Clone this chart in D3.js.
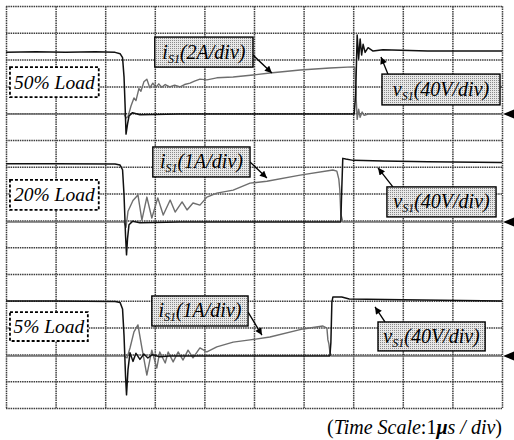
<!DOCTYPE html>
<html><head><meta charset="utf-8">
<script src="https://cdn.jsdelivr.net/npm/d3@7"></script>
<style>body{margin:0;background:#fff} svg{display:block}</style>
</head><body>
<script>
// ---------- DATA (time in µs, voltage in V, current in A) ----------
const timeTicks = [0,1,2,3,4,5,6,7,8,9,10];            // 1 µs / div
const divTicks  = [0,1,2,3,4,5,6,7,8,9,10,11,12,13,14,15]; // vertical divisions
const loadLabels = ["50% Load","20% Load","5% Load"];
const currentScales = [2,1,1];      // A/div
const voltageScale = 40;            // V/div
const baselines = [10.97,6.94,1.94]; // channel zero level (div)

const vs50 = [[0,92],[0.6,93],[1.2,92],[1.8,93],[2.2,92],[2.3,90],[2.35,84],[2.38,55],[2.40,15],[2.42,-30],[2.45,-15],[2.48,-3],[2.55,2],[2.7,-1],[3.5,0],[5,0],[7.02,0],[7.05,30],[7.08,118],[7.11,82],[7.14,112],[7.17,88],[7.2,104],[7.24,92],[7.3,99],[7.4,94],[7.6,96],[8.5,94],[10,94]];
const is50 = [[0,0],[2.38,0],[2.42,-0.3],[2.46,-0.2],[2.52,0.6],[2.58,1.2],[2.62,1.0],[2.68,1.9],[2.72,1.7],[2.78,2.4],[2.84,2.6],[2.9,1.95],[2.96,2.3],[3.02,1.98],[3.08,2.25],[3.14,2.0],[3.21,2.2],[3.3,2.02],[3.4,2.15],[3.51,2.02],[3.6,2.2],[3.71,2.3],[3.8,2.45],[3.91,2.6],[4.05,2.55],[4.25,2.7],[4.58,2.76],[4.98,2.91],[5.32,3.06],[5.93,3.28],[6.53,3.43],[6.98,3.52],[7.03,3.5],[7.06,1.2],[7.08,-0.4],[7.11,0.35],[7.14,-0.25],[7.18,0.15],[7.22,-0.1],[7.3,0],[10,0]];

const vs20 = [[0,87],[1,87],[2.2,86.5],[2.3,85],[2.35,78],[2.38,40],[2.41,-20],[2.43,-49],[2.45,-25],[2.48,-4],[2.55,1],[2.7,-1],[3.5,0],[6.75,0],[6.77,50],[6.79,95],[6.85,94],[7,92],[7.6,91],[8.5,90],[10,89]];
const is20 = [[0,0],[2.38,0],[2.42,-0.2],[2.46,0.4],[2.56,0.8],[2.66,1.01],[2.74,0.07],[2.84,0.93],[2.94,0.15],[3.06,0.9],[3.17,0.26],[3.31,0.82],[3.41,0.37],[3.55,0.75],[3.65,0.45],[3.77,0.71],[3.91,0.63],[4.05,0.93],[4.25,1.08],[4.58,1.19],[4.92,1.45],[5.26,1.52],[5.93,1.75],[6.59,1.94],[6.67,1.9],[6.71,1.6],[6.73,1.2],[6.75,0.3],[6.79,0],[10,0]];

const vs5 = [[0,82],[1,82],[2.2,81.5],[2.3,80],[2.35,70],[2.38,30],[2.41,-30],[2.43,-58],[2.46,-20],[2.5,5],[2.56,-8],[2.62,4],[2.7,-5],[2.78,3],[2.86,-3],[2.95,2],[3.1,-1],[3.3,0],[6.53,0],[6.55,20],[6.57,80],[6.59,88],[6.77,88],[6.92,85],[8,84],[10,82]];
const is5 = [[0,0],[2.38,0],[2.44,-0.07],[2.5,0.3],[2.58,0.9],[2.66,1.16],[2.74,0.3],[2.84,-0.71],[2.94,0.22],[3.04,-0.45],[3.1,0.15],[3.21,-0.26],[3.27,0.15],[3.37,-0.22],[3.47,0.15],[3.57,-0.15],[3.67,0.22],[3.77,-0.07],[3.91,0.3],[4.05,0.15],[4.25,0.34],[4.58,0.52],[4.92,0.6],[5.32,0.71],[5.99,1.01],[6.39,1.12],[6.47,1.04],[6.49,0.6],[6.51,0.45],[6.53,0.15],[6.56,0],[10,0]];

const voltages = [vs50, vs20, vs5];
const currents = [is50, is20, is5];
const currentLabels = ["(2A/div)","(1A/div)","(1A/div)"];
const voltageLabel = "(40V/div)";

// annotation geometry in scope units [t0,t1,div0,div1]
const loadBoxes = [[0.08,1.87,11.6,12.72],[0.08,1.87,7.39,8.51],[0.08,1.65,2.5,3.58]];
const iBoxes = [[3.0,4.98,12.72,13.84],[2.96,4.92,8.62,9.74],[2.94,4.88,3.06,4.18]];
const vBoxes = [[7.58,9.96,11.31,12.46],[7.68,9.88,7.13,8.25],[7.5,9.66,2.13,3.21]];
const iArrows = [[4.98,13.17,5.36,12.5],[4.92,9.18,5.26,8.58],[4.88,3.58,5.16,2.72]];
const vArrows = [[7.70,12.46,7.56,13.1],[7.80,8.25,7.50,8.96],[7.64,3.21,7.44,3.77]];

// ---------- DRAW ----------
const W=514,H=440;
const svg=d3.select("body").append("svg").attr("width",W).attr("height",H);
const x=d3.scaleLinear().domain([0,10]).range([6,502]);
const y=d3.scaleLinear().domain([0,15]).range([408,6]);
const defs=svg.append("defs");
const pat=defs.append("pattern").attr("id","stip").attr("width",2).attr("height",2).attr("patternUnits","userSpaceOnUse");
pat.append("rect").attr("width",2).attr("height",2).attr("fill","#e8e8e8");
pat.append("rect").attr("width",1).attr("height",1).attr("fill","#8a8a8a");
defs.append("marker").attr("id","ah").attr("viewBox","0 0 10 10").attr("refX",10).attr("refY",5)
  .attr("markerWidth",8).attr("markerHeight",7).attr("markerUnits","userSpaceOnUse").attr("orient","auto")
  .append("path").attr("d","M0,0L10,5L0,10z").attr("fill","#000");

const gx=svg.append("g").attr("transform",`translate(0,${y(0)})`)
  .call(d3.axisBottom(x).tickValues(timeTicks).tickSize(-(y(0)-y(15))).tickFormat(""));
const gy=svg.append("g").attr("transform",`translate(${x(0)},0)`)
  .call(d3.axisLeft(y).tickValues(divTicks).tickSize(-(x(10)-x(0))).tickFormat(""));
[gx,gy].forEach(g=>{g.select(".domain").remove();
  g.selectAll(".tick line").attr("stroke","#3c3c3c").attr("stroke-width",1.5).attr("stroke-dasharray","1.5,0.8");});

const traces=svg.append("g").attr("fill","none").attr("stroke-linejoin","round");
baselines.forEach((b,i)=>{
  const li=d3.line().x(d=>x(d[0])).y(d=>y(b+d[1]/currentScales[i]));
  const lv=d3.line().x(d=>x(d[0])).y(d=>y(b+d[1]/voltageScale));
  traces.append("path").attr("d",li(currents[i])).attr("stroke","#6e6e6e").attr("stroke-width",1.4);
  traces.append("path").attr("d",lv(voltages[i])).attr("stroke","#111").attr("stroke-width",1.5);
});

const serif="'Liberation Serif','Times New Roman',serif";
const ann=svg.append("g");
function box(b,fill,dash){
  return ann.append("rect").attr("x",x(b[0])).attr("y",y(b[3])).attr("width",x(b[1])-x(b[0])).attr("height",y(b[2])-y(b[3]))
    .attr("fill",fill).attr("stroke","#000").attr("stroke-width",dash?1.8:1.4).attr("stroke-dasharray",dash?"3,2":null);
}
function arrow(a){
  ann.append("line").attr("x1",x(a[0])).attr("y1",y(a[1])).attr("x2",x(a[2])).attr("y2",y(a[3]))
    .attr("stroke","#000").attr("stroke-width",1.3).attr("marker-end","url(#ah)");
}
function symLabel(b,sym,unit){
  const cx=(x(b[0])+x(b[1]))/2, cy=(y(b[2])+y(b[3]))/2;
  const t=ann.append("text").attr("x",cx).attr("y",cy+6.5).attr("text-anchor","middle")
    .attr("font-family",serif).attr("font-style","italic").attr("font-size",20).attr("fill","#000");
  t.append("tspan").text(sym);
  t.append("tspan").attr("font-size",12).attr("dy",4).text("S1");
  t.append("tspan").attr("dy",-4).text(unit);
}
baselines.forEach((b,i)=>{
  const lb=loadBoxes[i];
  box(lb,"#fff",true);
  ann.append("text").attr("x",(x(lb[0])+x(lb[1]))/2).attr("y",(y(lb[2])+y(lb[3]))/2+6.5).attr("text-anchor","middle")
    .attr("font-family",serif).attr("font-style","italic").attr("font-size",19.5).text(loadLabels[i]);
  arrow(iArrows[i]); arrow(vArrows[i]);
  box(iBoxes[i],"url(#stip)",false); symLabel(iBoxes[i],"i",currentLabels[i]);
  box(vBoxes[i],"url(#stip)",false); symLabel(vBoxes[i],"v",voltageLabel);
  const yy=y(b);
  ann.append("path").attr("d",`M${x(10)+1},${yy}L${W},${yy-4.5}L${W},${yy+4.5}Z`).attr("fill","#000");
});

const cap=svg.append("text").attr("x",x(10)).attr("y",434).attr("text-anchor","end")
  .attr("font-family",serif).attr("font-size",20).attr("fill","#000");
cap.append("tspan").text("(");
cap.append("tspan").attr("font-style","italic").text("Time Scale");
cap.append("tspan").text(":1");
cap.append("tspan").attr("font-style","italic").attr("font-weight","bold").text("μ");
cap.append("tspan").attr("font-style","italic").text("s / div");
cap.append("tspan").text(")");
</script>
</body></html>
